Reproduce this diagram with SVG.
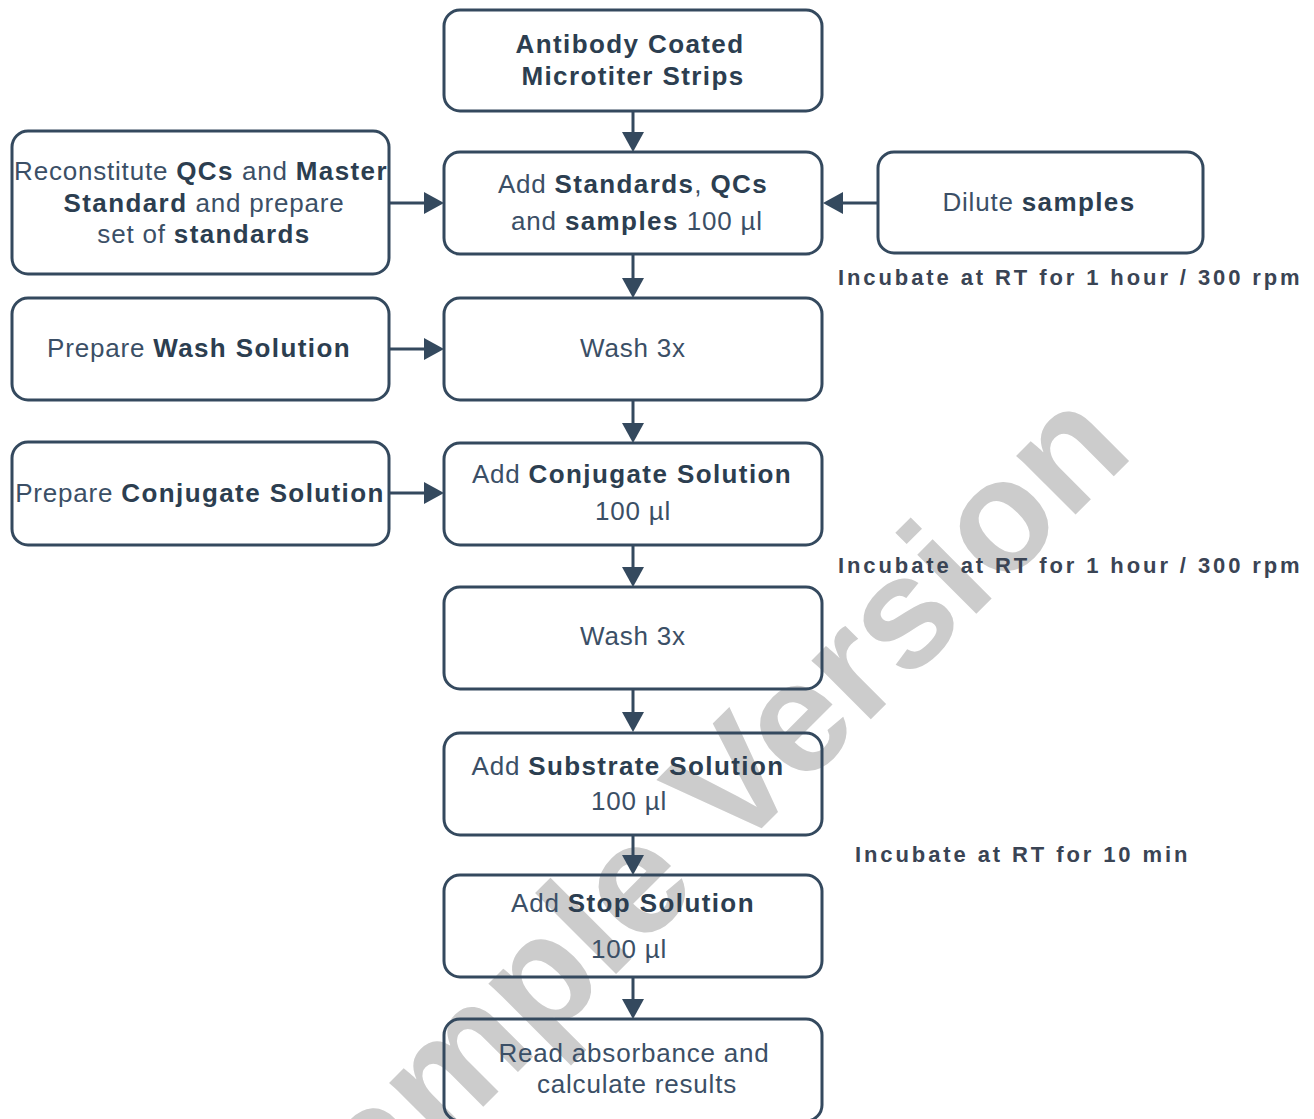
<svg xmlns="http://www.w3.org/2000/svg" width="1314" height="1119" viewBox="0 0 1314 1119">
<style>
.box{fill:none;stroke:#34495e;stroke-width:3}
.t{font-family:"Liberation Sans",Arial,sans-serif;font-size:26px;fill:#3b4f66;letter-spacing:0.8px;text-anchor:middle}
.b{font-weight:bold;fill:#2c3e50;letter-spacing:1.4px}
.lbl{font-family:"Liberation Sans",Arial,sans-serif;font-weight:bold;font-size:22px;fill:#3a4454;letter-spacing:2.9px}
.wm{font-family:"Liberation Sans",Arial,sans-serif;font-weight:bold;font-size:158px;fill:#cccccc}
.c{stroke:#34495e;stroke-width:3;fill:none;marker-end:url(#ah)}
</style>
<defs>
<marker id="ah" markerUnits="userSpaceOnUse" markerWidth="20" markerHeight="22" refX="15" refY="11" orient="auto">
<path d="M0,0 L20,11 L0,22 Z" fill="#34495e"/>
</marker>
</defs>
<rect width="1314" height="1119" fill="#ffffff"/>
<text class="wm" transform="translate(304,1286) rotate(-45)">Sample Version</text>

<g id="connectors">
<line class="c" x1="633" y1="111" x2="633" y2="147"/>
<line class="c" x1="633" y1="254" x2="633" y2="293"/>
<line class="c" x1="633" y1="400" x2="633" y2="438"/>
<line class="c" x1="633" y1="545" x2="633" y2="582"/>
<line class="c" x1="633" y1="689" x2="633" y2="727"/>
<line class="c" x1="633" y1="835" x2="633" y2="870"/>
<line class="c" x1="633" y1="977" x2="633" y2="1014"/>
<line class="c" x1="390" y1="203" x2="439" y2="203"/>
<line class="c" x1="390" y1="349" x2="439" y2="349"/>
<line class="c" x1="390" y1="493" x2="439" y2="493"/>
<line class="c" x1="878" y1="203" x2="828" y2="203"/>
</g>

<g id="antibody">
<rect class="box" x="444" y="10" width="378" height="101" rx="16"/>
<text class="t" x="630" y="53"><tspan class="b">Antibody Coated</tspan></text>
<text class="t" x="633" y="85"><tspan class="b">Microtiter Strips</tspan></text>
</g>

<g id="add-standards">
<rect class="box" x="444" y="152" width="378" height="102" rx="16"/>
<text class="t" x="633" y="193">Add <tspan class="b">Standards</tspan>, <tspan class="b">QCs</tspan></text>
<text class="t" x="637" y="230">and <tspan class="b">samples</tspan> 100 µl</text>
</g>

<g id="reconstitute">
<rect class="box" x="12" y="131" width="377" height="143" rx="16"/>
<text class="t" x="201" y="180">Reconstitute <tspan class="b">QCs</tspan> and <tspan class="b">Master</tspan></text>
<text class="t" x="204" y="212"><tspan class="b">Standard</tspan> and prepare</text>
<text class="t" x="204" y="243">set of <tspan class="b">standards</tspan></text>
</g>

<g id="dilute">
<rect class="box" x="878" y="152" width="325" height="101" rx="16"/>
<text class="t" x="1039" y="211">Dilute <tspan class="b">samples</tspan></text>
</g>

<g id="wash1">
<rect class="box" x="444" y="298" width="378" height="102" rx="16"/>
<text class="t" x="633" y="357">Wash 3x</text>
</g>

<g id="prep-wash">
<rect class="box" x="12" y="298" width="377" height="102" rx="16"/>
<text class="t" x="199" y="357">Prepare <tspan class="b">Wash Solution</tspan></text>
</g>

<g id="add-conjugate">
<rect class="box" x="444" y="443" width="378" height="102" rx="16"/>
<text class="t" x="632" y="483">Add <tspan class="b">Conjugate Solution</tspan></text>
<text class="t" x="633" y="520">100 µl</text>
</g>

<g id="prep-conjugate">
<rect class="box" x="12" y="442" width="377" height="103" rx="16"/>
<text class="t" x="200" y="502">Prepare <tspan class="b">Conjugate Solution</tspan></text>
</g>

<g id="wash2">
<rect class="box" x="444" y="587" width="378" height="102" rx="16"/>
<text class="t" x="633" y="645">Wash 3x</text>
</g>

<g id="add-substrate">
<rect class="box" x="444" y="733" width="378" height="102" rx="16"/>
<text class="t" x="628" y="775">Add <tspan class="b">Substrate Solution</tspan></text>
<text class="t" x="629" y="810">100 µl</text>
</g>

<g id="add-stop">
<rect class="box" x="444" y="875" width="378" height="102" rx="16"/>
<text class="t" x="633" y="912">Add <tspan class="b">Stop Solution</tspan></text>
<text class="t" x="629" y="958">100 µl</text>
</g>

<g id="read">
<rect class="box" x="444" y="1019" width="378" height="102" rx="16"/>
<text class="t" x="634" y="1062">Read absorbance and</text>
<text class="t" x="637" y="1093">calculate results</text>
</g>

<g id="labels">
<text class="lbl" x="838" y="285">Incubate at RT for 1 hour / 300 rpm</text>
<text class="lbl" x="838" y="573">Incubate at RT for 1 hour / 300 rpm</text>
<text class="lbl" x="855" y="862">Incubate at RT for 10 min</text>
</g>
</svg>
